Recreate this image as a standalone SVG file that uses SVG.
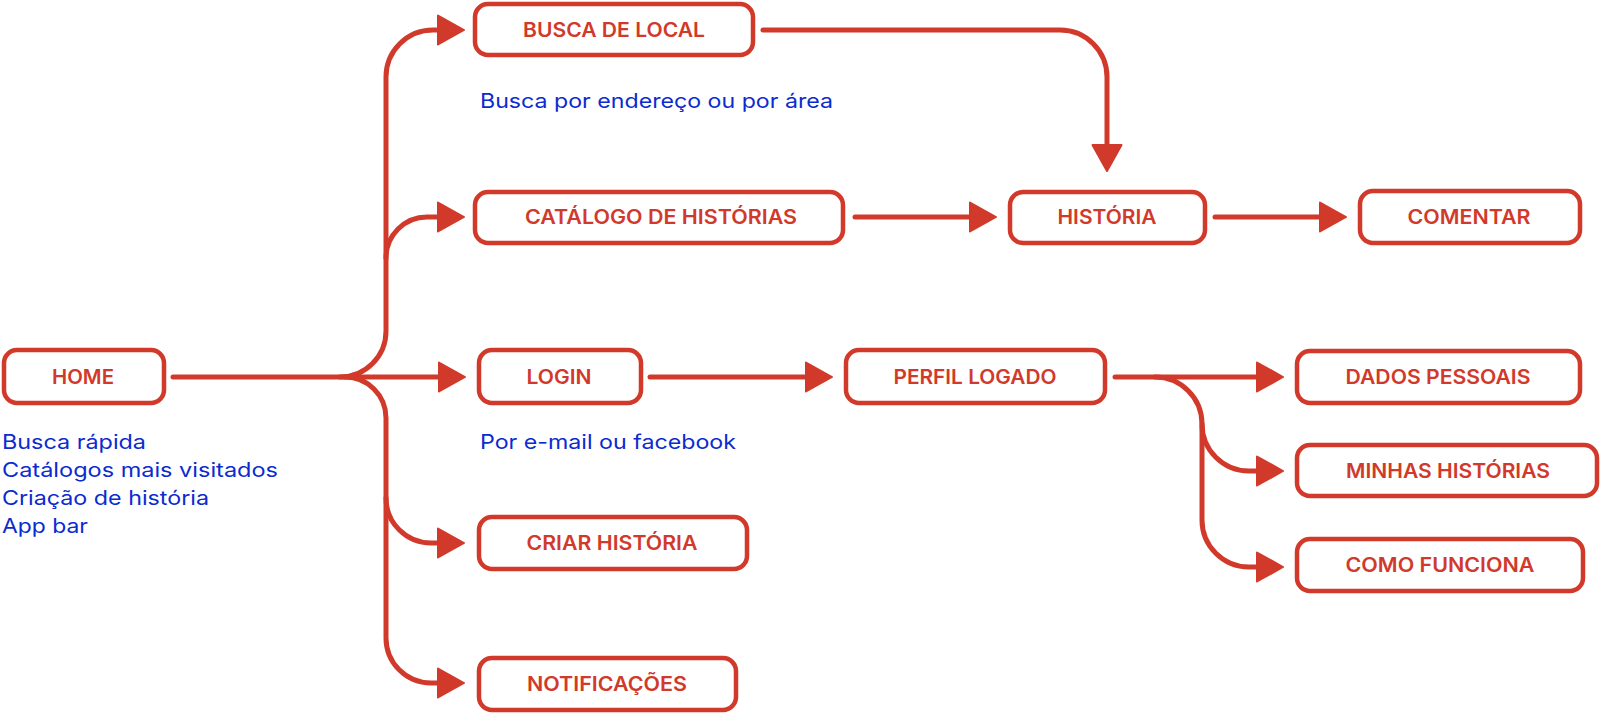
<svg xmlns="http://www.w3.org/2000/svg" width="1601" height="713" viewBox="0 0 1601 713">
<defs>
<style>
.box{fill:#fff;stroke:#D13A2B;stroke-width:4.5}
.lbl{font-family:Inter,"Open Sans","Liberation Sans",sans-serif;font-weight:600;font-size:20px;fill:#D13A2B;text-anchor:middle}
.note{font-family:Inter,"Open Sans","Liberation Sans",sans-serif;font-weight:400;font-size:20px;fill:#0B2BD0}
.con{fill:none;stroke:#D13A2B;stroke-width:5;stroke-linecap:round;stroke-linejoin:round}
</style>
<marker id="arr" markerUnits="userSpaceOnUse" markerWidth="32" markerHeight="36" refX="1" refY="16" orient="auto" viewBox="0 0 32 32">
<path d="M1,1.5 L27,16 L1,30.5 Z" fill="#D13A2B" stroke="#D13A2B" stroke-width="2" stroke-linejoin="round"/>
</marker>
</defs>
<rect width="1601" height="713" fill="#fff"/>
<g id="connectors" class="con">
<path d="M173 377 H439" marker-end="url(#arr)"/>
<path d="M340 377 A46 46 0 0 0 386 331 V77 A47 47 0 0 1 433 30 H438" marker-end="url(#arr)"/>
<path d="M386 258 A41 41 0 0 1 427 217 H438" marker-end="url(#arr)"/>
<path d="M345 377 A41 41 0 0 1 386 418 V638 A45 45 0 0 0 431 683 H438" marker-end="url(#arr)"/>
<path d="M386 498 A45 45 0 0 0 431 543 H438" marker-end="url(#arr)"/>
<path d="M763 30 H1060 A47 47 0 0 1 1107 77 V145" marker-end="url(#arr)"/>
<path d="M855 217 H970" marker-end="url(#arr)"/>
<path d="M1215 217 H1320" marker-end="url(#arr)"/>
<path d="M650 377 H806" marker-end="url(#arr)"/>
<path d="M1115 377 H1257" marker-end="url(#arr)"/>
<path d="M1155 377 A47 47 0 0 1 1202 424 V520 A47 47 0 0 0 1249 567 H1257" marker-end="url(#arr)"/>
<path d="M1202 424 A47 47 0 0 0 1249 471 H1257" marker-end="url(#arr)"/>
</g>
<g id="home">
<rect class="box" x="4" y="350" width="160" height="53" rx="13"/>
<text class="lbl" x="83" y="384" textLength="62" lengthAdjust="spacingAndGlyphs">HOME</text>
<text class="note" x="2" y="449" textLength="144" lengthAdjust="spacingAndGlyphs">Busca rápida</text>
<text class="note" x="2" y="477" textLength="276" lengthAdjust="spacingAndGlyphs">Catálogos mais visitados</text>
<text class="note" x="2" y="505" textLength="207" lengthAdjust="spacingAndGlyphs">Criação de história</text>
<text class="note" x="2" y="533" textLength="86" lengthAdjust="spacingAndGlyphs">App bar</text>
</g>
<g id="busca">
<rect class="box" x="475" y="4" width="278" height="51" rx="13"/>
<text class="lbl" x="614" y="37" textLength="182" lengthAdjust="spacingAndGlyphs">BUSCA DE LOCAL</text>
<text class="note" x="480" y="108" textLength="353" lengthAdjust="spacingAndGlyphs">Busca por endereço ou por área</text>
</g>
<g id="catalogo">
<rect class="box" x="475" y="192" width="368" height="51" rx="13"/>
<text class="lbl" x="661" y="224" textLength="272" lengthAdjust="spacingAndGlyphs">CATÁLOGO DE HISTÓRIAS</text>
</g>
<g id="historia">
<rect class="box" x="1010" y="192" width="195" height="51" rx="13"/>
<text class="lbl" x="1107" y="224" textLength="99" lengthAdjust="spacingAndGlyphs">HISTÓRIA</text>
</g>
<g id="comentar">
<rect class="box" x="1360" y="191" width="220" height="52" rx="13"/>
<text class="lbl" x="1469" y="224" textLength="123" lengthAdjust="spacingAndGlyphs">COMENTAR</text>
</g>
<g id="login">
<rect class="box" x="479" y="350" width="162" height="53" rx="13"/>
<text class="lbl" x="559" y="384" textLength="65" lengthAdjust="spacingAndGlyphs">LOGIN</text>
<text class="note" x="480" y="449" textLength="256" lengthAdjust="spacingAndGlyphs">Por e-mail ou facebook</text>
</g>
<g id="perfil">
<rect class="box" x="846" y="350" width="259" height="53" rx="13"/>
<text class="lbl" x="975" y="384" textLength="163" lengthAdjust="spacingAndGlyphs">PERFIL LOGADO</text>
</g>
<g id="dados">
<rect class="box" x="1297" y="351" width="283" height="52" rx="13"/>
<text class="lbl" x="1438" y="384" textLength="185" lengthAdjust="spacingAndGlyphs">DADOS PESSOAIS</text>
</g>
<g id="minhas">
<rect class="box" x="1297" y="445" width="300" height="51" rx="13"/>
<text class="lbl" x="1448" y="478" textLength="204" lengthAdjust="spacingAndGlyphs">MINHAS HISTÓRIAS</text>
</g>
<g id="como">
<rect class="box" x="1297" y="539" width="286" height="52" rx="13"/>
<text class="lbl" x="1440" y="572" textLength="189" lengthAdjust="spacingAndGlyphs">COMO FUNCIONA</text>
</g>
<g id="criar">
<rect class="box" x="479" y="517" width="268" height="52" rx="13"/>
<text class="lbl" x="612" y="550" textLength="171" lengthAdjust="spacingAndGlyphs">CRIAR HISTÓRIA</text>
</g>
<g id="notificacoes">
<rect class="box" x="479" y="658" width="257" height="52" rx="13"/>
<text class="lbl" x="607" y="691" textLength="160" lengthAdjust="spacingAndGlyphs">NOTIFICAÇÕES</text>
</g>
</svg>
